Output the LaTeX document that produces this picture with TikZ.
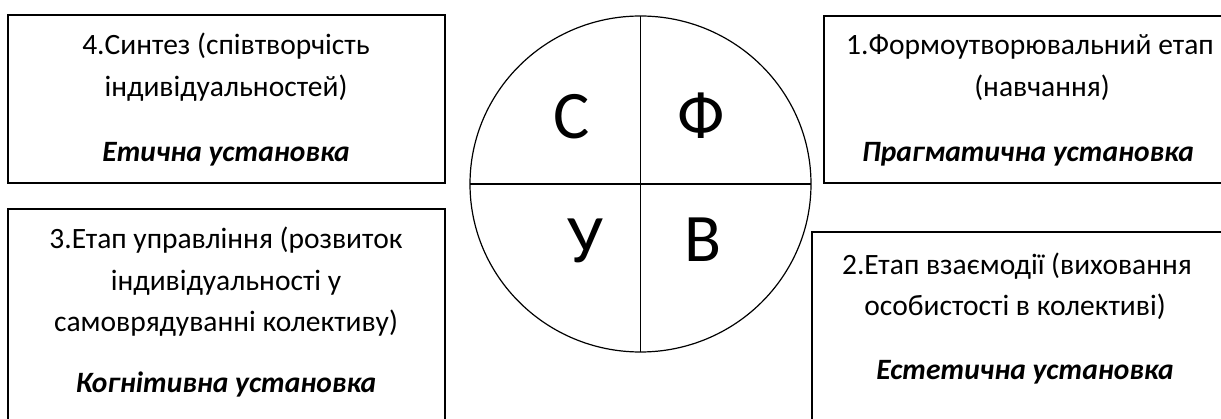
\documentclass[tikz,border=0pt]{standalone}
\usepackage{fontspec}
\setmainfont{Carlito}
\begin{document}
\begin{tikzpicture}[x=1pt,y=-1pt,
  box/.style={draw,line width=1.6pt},
  txt/.style={anchor=base,inner sep=0pt,font=\fontsize{29.5}{34}\selectfont},
  bitxt/.style={txt,font=\fontsize{29.5}{34}\selectfont\bfseries\itshape},
  big/.style={inner sep=0pt,font=\fontsize{68}{72}\selectfont}]
\useasboundingbox (0,0) rectangle (1221,419);
\clip (0,0) rectangle (1221,419);
% boxes
\draw[box] (8,15) rectangle (445,183);
\draw[box] (8,209) rectangle (445,440);
\draw[box] (824,16) rectangle (1250,183);
\draw[box] (812,232) rectangle (1250,440);
% circle
\coordinate (c) at (640.5,184);
\draw[line width=1.2pt] (c) ellipse [x radius=170.5, y radius=168];
\coordinate (t) at (640.5,16);
\coordinate (b) at (640.5,352);
\coordinate (l) at (470,184);
\coordinate (r) at (811,184);
\draw[line width=1.2pt] (t) -- (b);
\draw[line width=1.2pt] (l) -- (r);
\node[big] (S) at (572,117) {С};
\node[big] (F) at (701,116) {Ф};
\node[big] (U) at (585,241) {У};
\node[big] (V) at (703,240) {В};
% box 4
\node[txt] (a1) at (226,55) {4.Синтез (співтворчість};
\node[txt] (a2) at (226,97) {індивідуальностей)};
\node[bitxt] (a3) at (226,162) {Етична установка};
% box 3
\node[txt] (b1) at (226,249) {3.Етап управління (розвиток};
\node[txt] (b2) at (226,291) {індивідуальності у};
\node[txt] (b3) at (226,332) {самоврядуванні колективу)};
\node[bitxt] (b4) at (226,393) {Когнітивна установка};
% box 1
\node[txt] (c1) at (1030,55) {1.Формоутворювальний етап};
\node[txt] (c2) at (1042,97) {(навчання)};
\node[bitxt] (c3) at (1028,162) {Прагматична установка};
% box 2
\node[txt] (d1) at (1017,275) {2.Етап взаємодії (виховання};
\node[txt] (d2) at (1015,316) {особистості в колективі)};
\node[bitxt] (d3) at (1025,380) {Естетична установка};
\end{tikzpicture}
\end{document}
